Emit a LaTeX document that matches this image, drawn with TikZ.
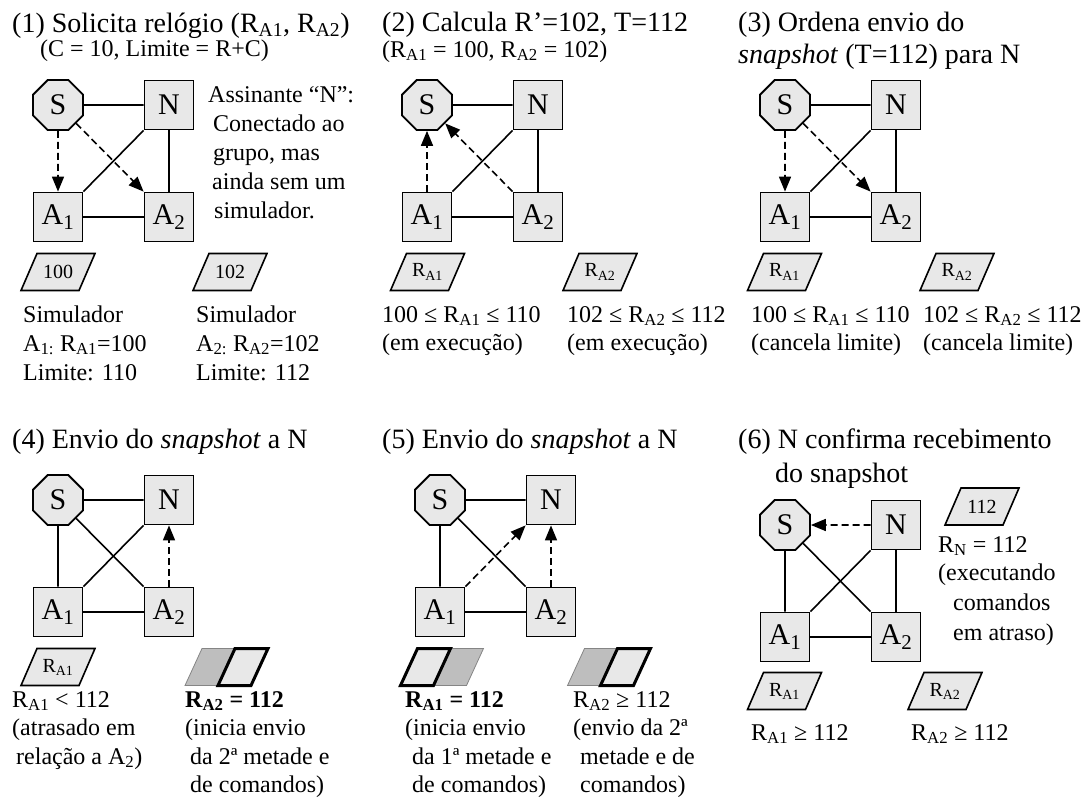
\documentclass[tikz,border=0pt]{standalone}
\usepackage{fontspec}
\setmainfont{Liberation Serif}
\usetikzlibrary{shapes.geometric,arrows.meta}
\definecolor{lightg}{RGB}{232,232,232}
\definecolor{darkg}{RGB}{190,190,190}
\newcommand\mysub[1]{\textsubscript{#1}}
\newcommand\titlefont{\fontsize{28}{32}\selectfont}
\newcommand\bodyfont{\fontsize{24}{29}\selectfont}
\newcommand\nodefont{\fontsize{30}{34}\selectfont}
\newcommand\parafont{\fontsize{20}{24}\selectfont}
\tikzset{
  box/.style={draw, line width=1.8pt, fill=lightg, minimum size=49pt, inner sep=0pt, font=\nodefont},
  oct/.style={draw, line width=1.8pt, fill=lightg, regular polygon, regular polygon sides=8, minimum size=54pt, inner sep=0pt, font=\nodefont},
  edge/.style={line width=1.6pt},
  dasharrow/.style={line width=1.6pt, dash pattern=on 7pt off 4pt, -{Triangle[length=15pt,width=12pt]}},
  lbl/.style={anchor=base west, inner sep=0pt, font=\bodyfont},
  ttl/.style={anchor=base west, inner sep=0pt, font=\titlefont},
  ptxt/.style={inner sep=0pt, font=\parafont},
  parafill/.style={draw, line width=1.6pt, fill=lightg},
  halflight/.style={draw, line width=3pt, fill=lightg, line join=miter},
  halfdark/.style={draw=darkg!70!black, line width=0.8pt, fill=darkg},
}
\newcommand\basenodes[3]{%
  \begin{scope}[shift={(#2,#3)}]
    \node[oct] (#1S) at (58,105) {S};
    \node[box] (#1N) at (169,105) {N};
    \node[box] (#1A) at (58,217) {A\mysub{1}};
    \node[box] (#1B) at (169,217) {A\mysub{2}};
  \end{scope}}
\newcommand\para[3]{%
  \begin{scope}[shift={(#2)}]
    \draw[parafill] (-37,18.5) -- (21,18.5) -- (37,-18.5) -- (-21,-18.5) -- cycle;
    \node[ptxt] (#1) at (0,0) {#3};
  \end{scope}}
\newcommand\dparaL[2]{%
  \begin{scope}[shift={(#2)}]
    \coordinate (#1) at (0,0);
    \draw[halfdark] (-8.5,18.5) -- (24.5,18.5) -- (41.5,-18.5) -- (8.5,-18.5) -- cycle;
    \draw[halflight] (-41.5,18.5) -- (-8.5,18.5) -- (8.5,-18.5) -- (-24.5,-18.5) -- cycle;
  \end{scope}}
\newcommand\dparaR[2]{%
  \begin{scope}[shift={(#2)}]
    \coordinate (#1) at (0,0);
    \draw[halfdark] (-41.5,18.5) -- (-8.5,18.5) -- (8.5,-18.5) -- (-24.5,-18.5) -- cycle;
    \draw[halflight] (-8.5,18.5) -- (24.5,18.5) -- (41.5,-18.5) -- (8.5,-18.5) -- cycle;
  \end{scope}}
\begin{document}
\begin{tikzpicture}[x=1pt,y=-1pt]
\useasboundingbox (0,0) rectangle (1084,809);
% ---------------- Panel 1
\basenodes{a}{0}{0}
\draw[edge] (aS) -- (aN);
\draw[edge] (aN.south west) -- (aA.north east);
\draw[edge] (aN) -- (aB);
\draw[edge] (aA) -- (aB);
\draw[dasharrow] (aS) -- (aA);
\draw[dasharrow] (aS) -- (aB.north west);
\node[ttl] (t1) at (12,32) {(1) Solicita relógio (R\mysub{A1}, R\mysub{A2})};
\node[lbl] (t1b) at (40,56) {(C = 10, Limite = R+C)};
\node[lbl] (n1) at (208,102) {Assinante “N”:};
\node[lbl] (n2) at (213,131) {Conectado ao};
\node[lbl] (n3) at (213,160) {grupo, mas};
\node[lbl] (n4) at (212,189) {ainda sem um};
\node[lbl] (n5) at (214,218) {simulador.};
\para{p1a}{58,272}{100}
\para{p1b}{230,272}{102}
\node[lbl] (s1a) at (23,322) {Simulador};
\node[lbl] (s1b) at (23,351) {A\mysub{1:} R\mysub{A1}=100};
\node[lbl] (s1c) at (23,380) {Limite: 110};
\node[lbl] (s2a) at (196,322) {Simulador};
\node[lbl] (s2b) at (196,351) {A\mysub{2:} R\mysub{A2}=102};
\node[lbl] (s2c) at (196,380) {Limite: 112};
% ---------------- Panel 2
\basenodes{b}{369}{0}
\draw[edge] (bS) -- (bN);
\draw[edge] (bN.south west) -- (bA.north east);
\draw[edge] (bN) -- (bB);
\draw[edge] (bA) -- (bB);
\draw[dasharrow] (bA) -- (bS);
\draw[dasharrow] (bB.north west) -- (bS);
\node[ttl] (t2) at (382,31) {(2) Calcula R’=102, T=112};
\node[lbl] (t2b) at (382,57) {(R\mysub{A1} = 100, R\mysub{A2} = 102)};
\para{p2a}{427.5,272}{R\mysub{A1}}
\para{p2b}{600,272}{R\mysub{A2}}
\node[lbl] (u1a) at (382,322) {100 ≤ R\mysub{A1} ≤ 110};
\node[lbl] (u1b) at (382,350) {(em execução)};
\node[lbl] (u2a) at (567,322) {102 ≤ R\mysub{A2} ≤ 112};
\node[lbl] (u2b) at (567,350) {(em execução)};
% ---------------- Panel 3
\basenodes{c}{727}{0}
\draw[edge] (cS) -- (cN);
\draw[edge] (cN.south west) -- (cA.north east);
\draw[edge] (cN) -- (cB);
\draw[edge] (cA) -- (cB);
\draw[dasharrow] (cS) -- (cA);
\draw[dasharrow] (cS) -- (cB.north west);
\node[ttl] (t3) at (738,31) {(3) Ordena envio do};
\node[ttl] (t3b) at (738,63) {\textit{snapshot} (T=112) para N};
\para{p3a}{784.5,272}{R\mysub{A1}}
\para{p3b}{957,272}{R\mysub{A2}}
\node[lbl] (v1a) at (751,322) {100 ≤ R\mysub{A1} ≤ 110};
\node[lbl] (v1b) at (751,350) {(cancela limite)};
\node[lbl] (v2a) at (923,322) {102 ≤ R\mysub{A2} ≤ 112};
\node[lbl] (v2b) at (923,350) {(cancela limite)};
% ---------------- Panel 4
\basenodes{d}{0}{395}
\draw[edge] (dS) -- (dN);
\draw[edge] (dS) -- (dA);
\draw[edge] (dS) -- (dB.north west);
\draw[edge] (dN.south west) -- (dA.north east);
\draw[edge] (dA) -- (dB);
\draw[dasharrow] (dB) -- (dN);
\node[ttl] (t4) at (12,448) {(4) Envio do \textit{snapshot} a N};
\para{p4a}{58,667}{R\mysub{A1}}
\dparaR{p4b}{226.5,667}
\node[lbl] (w1a) at (12,707) {R\mysub{A1} < 112};
\node[lbl] (w1b) at (12,735) {(atrasado em};
\node[lbl] (w1c) at (16,764) {relação a A\mysub{2})};
\node[lbl] (w2a) at (185,707) {\textbf{R\mysub{A2} = 112}};
\node[lbl] (w2b) at (185,735) {(inicia envio};
\node[lbl] (w2c) at (190,764) {da 2ª metade e};
\node[lbl] (w2d) at (190,792) {de comandos)};
% ---------------- Panel 5
\basenodes{e}{382}{395}
\draw[edge] (eS) -- (eN);
\draw[edge] (eS) -- (eA);
\draw[edge] (eS) -- (eB.north west);
\draw[edge] (eA) -- (eB);
\draw[dasharrow] (eA.north east) -- (eN.south west);
\draw[dasharrow] (eB) -- (eN);
\node[ttl] (t5) at (382,448) {(5) Envio do \textit{snapshot} a N};
\dparaL{p5a}{442,667}
\dparaR{p5b}{609,667}
\node[lbl] (x1a) at (405,707) {\textbf{R\mysub{A1} = 112}};
\node[lbl] (x1b) at (405,735) {(inicia envio};
\node[lbl] (x1c) at (412,764) {da 1ª metade e};
\node[lbl] (x1d) at (412,792) {de comandos)};
\node[lbl] (x2a) at (573,707) {R\mysub{A2} ≥ 112};
\node[lbl] (x2b) at (573,735) {(envio da 2ª};
\node[lbl] (x2c) at (580,764) {metade e de};
\node[lbl] (x2d) at (580,792) {comandos)};
% ---------------- Panel 6
\basenodes{f}{727}{420}
\draw[edge] (fS) -- (fA);
\draw[edge] (fS) -- (fB.north west);
\draw[edge] (fN.south west) -- (fA.north east);
\draw[edge] (fN) -- (fB);
\draw[edge] (fA) -- (fB);
\draw[dasharrow] (fN) -- (fS);
\node[ttl] (t6) at (738,448) {(6) N confirma recebimento};
\node[ttl] (t6b) at (775,482) {do snapshot};
\para{p6n}{982,506.5}{112}
\node[lbl] (y0a) at (938,552) {R\mysub{N} = 112};
\node[lbl] (y0b) at (938,580) {(executando};
\node[lbl] (y0c) at (953,610) {comandos};
\node[lbl] (y0d) at (953,640) {em atraso)};
\para{p6a}{784.5,691}{R\mysub{A1}}
\para{p6b}{945,691}{R\mysub{A2}}
\node[lbl] (y1) at (751,740) {R\mysub{A1} ≥ 112};
\node[lbl] (y2) at (911,740) {R\mysub{A2} ≥ 112};
\end{tikzpicture}
\end{document}
